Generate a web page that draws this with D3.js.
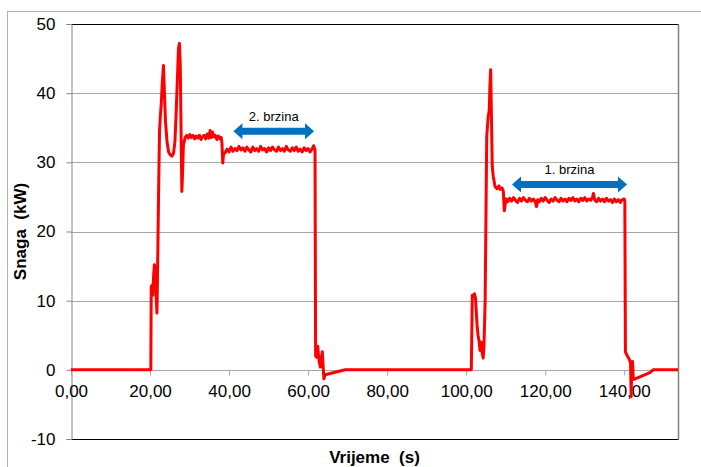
<!DOCTYPE html>
<html>
<head>
<meta charset="utf-8">
<script src="https://cdn.jsdelivr.net/npm/d3@7"></script>
<style>
  body { margin: 0; background: #fff; }
  svg { display: block; font-family: "Liberation Sans", Arial, sans-serif; }
</style>
</head>
<body>
<div id="chart"></div>
<script>
// Axis setup
const xDomain = [0, 153.6];
const yDomain = [-10, 50];
const xTicks = [0, 20, 40, 60, 80, 100, 120, 140];
const yTicks = [-10, 0, 10, 20, 30, 40, 50];

// Power trace [time s, power kW], split by phase
const idle1 = [[0, 0], [20.2, 0]];
const start1 = [
    [20.3, 12.0], [20.45, 12.2], [20.7, 10.8], [20.9, 13.5], [21.1, 15.2], [21.25, 14.8],
    [21.45, 12.0], [21.75, 8.2], [21.9, 14.0], [22.15, 25.0], [22.4, 34.5], [22.6, 36.5],
    [22.85, 38.5], [23.1, 41.5], [23.4, 44.0], [23.65, 40.0], [23.9, 36.0], [24.3, 33.0],
    [24.7, 31.5], [25.1, 31.1], [25.55, 30.9], [25.95, 31.3], [26.3, 33.0], [26.6, 37.0],
    [26.95, 42.5], [27.2, 46.5], [27.45, 47.2], [27.65, 44.0], [27.8, 37.0], [27.95, 30.0],
    [28.05, 25.8], [28.2, 28.0], [28.45, 32.5], [28.9, 33.6],
    [29.3, 33.9], [29.7, 33.5], [30.1, 34.0], [30.5, 33.6], [30.9, 33.9], [31.3, 33.4],
    [31.7, 33.8], [32.1, 33.5], [32.5, 33.9], [32.9, 33.3], [33.3, 33.7], [33.7, 33.9],
    [34.1, 33.4], [34.5, 34.1], [34.9, 33.5], [35.2, 34.6], [35.5, 33.6], [35.8, 34.4],
    [36.1, 33.7], [36.5, 33.9], [36.9, 33.3], [37.3, 33.8], [37.7, 33.4], [38.0, 33.6],
    [38.2, 32.8], [38.4, 29.9], [38.6, 31.2]
];
const speed2 = [
    [39.0, 31.4], [39.5, 31.9], [40.0, 31.5], [40.5, 32.2], [41.0, 31.6], [41.5, 32.0],
    [42.0, 31.7], [42.5, 32.3], [43.0, 31.8], [43.5, 32.1], [44.0, 31.6], [44.5, 32.2],
    [45.0, 31.8], [45.5, 31.5], [46.0, 32.2], [46.5, 31.7], [47.0, 32.0], [47.5, 31.6],
    [48.0, 32.3], [48.5, 31.8], [49.0, 32.0], [49.5, 31.5], [50.0, 32.1], [50.5, 31.7],
    [51.0, 32.2], [51.5, 31.8], [52.0, 31.6], [52.5, 32.2], [53.0, 31.7], [53.5, 32.0],
    [54.0, 31.6], [54.5, 32.3], [55.0, 31.8], [55.5, 31.6], [56.0, 32.1], [56.5, 31.7],
    [57.0, 32.2], [57.5, 31.6], [58.0, 31.9], [58.5, 31.5], [59.0, 32.1], [59.5, 31.7],
    [60.0, 32.0], [60.5, 31.5], [61.0, 31.9], [61.4, 32.4], [61.75, 31.8]
];
const stop1 = [
    [61.9, 2.0], [62.2, 1.8], [62.45, 3.4], [62.6, 2.2], [62.8, 1.2], [63.1, 0.4],
    [63.3, 1.5], [63.6, 2.6], [63.8, 0.5], [64.0, -1.3], [64.3, -0.7], [69.4, 0],
    [101.3, 0]
];
const start2 = [
    [101.55, 10.8], [101.8, 10.5], [102.1, 11.0], [102.35, 10.4], [102.6, 8.0], [102.75, 6.5],
    [103.0, 5.0], [103.25, 4.2], [103.5, 2.8], [103.8, 4.0], [104.0, 2.6], [104.3, 1.7],
    [104.5, 3.4], [104.8, 10.0], [105.05, 25.0], [105.2, 33.7], [105.55, 36.5], [105.85, 37.6],
    [106.0, 41.0], [106.2, 43.4], [106.35, 38.0], [106.6, 29.4], [106.85, 28.0], [107.3, 26.5],
    [107.8, 26.2], [108.3, 26.6], [108.55, 26.1], [109.05, 26.3], [109.4, 25.8], [109.65, 23.0],
    [109.9, 24.0], [110.15, 24.7]
];
const speed1 = [
    [110.5, 24.3], [111.0, 24.8], [111.5, 24.4], [112.0, 24.9], [112.5, 24.5], [113.0, 24.2],
    [113.5, 24.8], [114.0, 24.4], [114.5, 24.9], [115.0, 24.5], [115.5, 24.3], [116.0, 24.8],
    [116.5, 24.4], [117.0, 24.7], [117.5, 24.3], [117.8, 23.6], [118.1, 24.6], [118.5, 24.3],
    [119.0, 24.8], [119.5, 24.4], [120.0, 24.9], [120.5, 24.5], [121.0, 24.2], [121.5, 24.7],
    [122.0, 24.4], [122.5, 24.9], [123.0, 24.5], [123.5, 24.3], [124.0, 24.8], [124.5, 24.4],
    [125.0, 24.7], [125.5, 24.3], [126.0, 24.8], [126.5, 24.5], [127.0, 24.9], [127.5, 24.4],
    [128.0, 24.7], [128.5, 24.3], [129.0, 24.8], [129.5, 24.5], [130.0, 24.9], [130.5, 24.4],
    [131.0, 24.7], [131.5, 24.5], [132.0, 25.0], [132.2, 25.5], [132.5, 24.6], [133.0, 24.3],
    [133.5, 24.8], [134.0, 24.4], [134.5, 24.7], [135.0, 24.3], [135.5, 24.8], [136.0, 24.4],
    [136.5, 24.6], [137.0, 24.2], [137.5, 24.7], [138.0, 24.3], [138.5, 24.6], [139.0, 24.2],
    [139.5, 24.6], [140.0, 24.7]
];
const stop2 = [
    [140.15, 24.3], [140.3, 2.6], [140.6, 2.2], [140.9, 1.9], [141.3, 1.5], [141.6, 1.0],
    [141.75, -3.9], [141.9, 0.8], [142.1, 1.2], [142.3, -1.4], [146.5, -0.4], [147.3, 0],
    [153.6, 0]
];

// Annotations: [from s, to s, level kW, label]
const speedArrows = [
    [41.1, 61.5, 34.5, "2. brzina"],
    [111.6, 140.7, 26.8, "1. brzina"]
];

const width = 701, height = 467;
const plot = { left: 71, right: 678, top: 24, bottom: 439 };

const svg = d3.select("#chart").append("svg")
    .attr("width", width)
    .attr("height", height);

// outer chart frame
svg.append("rect")
    .attr("x", 7.5).attr("y", 11.5)
    .attr("width", 720).attr("height", 480)
    .attr("fill", "none")
    .attr("stroke", "#b3b3b3");

const x = d3.scaleLinear().domain(xDomain).range([plot.left, plot.right]);
const y = d3.scaleLinear().domain(yDomain).range([plot.bottom, plot.top]);

const locale = d3.formatLocale({ decimal: ",", thousands: ".", grouping: [3], currency: ["", ""], minus: "-" });
const fmtX = locale.format(".2f");

// gridlines
svg.append("g")
    .selectAll("line")
    .data(yTicks.filter(d => d > 0 && d < 50))
    .join("line")
    .attr("x1", plot.left).attr("x2", plot.right)
    .attr("y1", d => Math.round(y(d)) + 0.5).attr("y2", d => Math.round(y(d)) + 0.5)
    .attr("stroke", "#a6a6a6");

// plot area border
svg.append("line")
    .attr("x1", plot.left).attr("x2", plot.right)
    .attr("y1", plot.top + 0.5).attr("y2", plot.top + 0.5)
    .attr("stroke", "#000");
svg.append("line")
    .attr("x1", plot.left).attr("x2", plot.right)
    .attr("y1", plot.bottom + 0.5).attr("y2", plot.bottom + 0.5)
    .attr("stroke", "#000");
svg.append("line")
    .attr("x1", plot.right + 0.5).attr("x2", plot.right + 0.5)
    .attr("y1", plot.top).attr("y2", plot.bottom + 1)
    .attr("stroke", "#808080")
    .attr("stroke-width", 1.5);

// y axis
const yAxis = svg.append("g")
    .attr("transform", `translate(${plot.left + 0.5},0)`)
    .call(d3.axisLeft(y).tickValues(yTicks).tickSize(5).tickPadding(11).tickFormat(d => String(d)));
yAxis.select(".domain").attr("stroke", "#868686");
yAxis.selectAll(".tick line").attr("stroke", "#868686");
yAxis.selectAll(".tick text")
    .attr("font-size", "17px")
    .attr("font-family", "Liberation Sans, Arial, sans-serif")
    .attr("fill", "#000");

// x axis sits on zero
const xAxis = svg.append("g")
    .attr("transform", `translate(0,${Math.round(y(0)) + 0.5})`)
    .call(d3.axisBottom(x).tickValues(xTicks).tickSize(5).tickPadding(9).tickFormat(fmtX));
xAxis.select(".domain").attr("stroke", "#a6a6a6").attr("d", `M${plot.left},0H${plot.right}`);
xAxis.selectAll(".tick line").attr("stroke", "#a6a6a6");
xAxis.selectAll(".tick text")
    .attr("font-size", "17px")
    .attr("font-family", "Liberation Sans, Arial, sans-serif")
    .attr("fill", "#000");

// power line
const series = [].concat(idle1, start1, speed2, stop1, start2, speed1, stop2);
const line = d3.line().x(d => x(d[0])).y(d => y(d[1]));
svg.append("path")
    .datum(series)
    .attr("d", line)
    .attr("fill", "none")
    .attr("stroke", "#ff0000")
    .attr("stroke-width", 3)
    .attr("stroke-linejoin", "round");

// double-headed arrows with labels
const headLen = 9, headHalf = 8, shaftHalf = 3.5;
speedArrows.forEach(a => {
    const x1 = x(a[0]), x2 = x(a[1]), cy = y(a[2]);
    const p = [
        [x1, cy], [x1 + headLen, cy - headHalf], [x1 + headLen, cy - shaftHalf],
        [x2 - headLen, cy - shaftHalf], [x2 - headLen, cy - headHalf], [x2, cy],
        [x2 - headLen, cy + headHalf], [x2 - headLen, cy + shaftHalf],
        [x1 + headLen, cy + shaftHalf], [x1 + headLen, cy + headHalf]
    ];
    svg.append("path")
        .attr("d", "M" + p.map(q => q.join(",")).join("L") + "Z")
        .attr("fill", "#0070c0");
    svg.append("text")
        .attr("x", (x1 + x2) / 2)
        .attr("y", cy - 10)
        .attr("text-anchor", "middle")
        .attr("font-size", "13px")
        .attr("fill", "#000")
        .text(a[3]);
});

// axis titles
svg.append("text")
    .attr("x", (plot.left + plot.right) / 2)
    .attr("y", 463)
    .attr("text-anchor", "middle")
    .attr("font-size", "17px")
    .attr("font-weight", "bold")
    .style("white-space", "pre")
    .text("Vrijeme  (s)");

svg.append("text")
    .attr("transform", `translate(26,${(plot.top + plot.bottom) / 2}) rotate(-90)`)
    .attr("text-anchor", "middle")
    .attr("font-size", "17px")
    .attr("font-weight", "bold")
    .style("white-space", "pre")
    .text("Snaga  (kW)");
</script>
</body>
</html>
